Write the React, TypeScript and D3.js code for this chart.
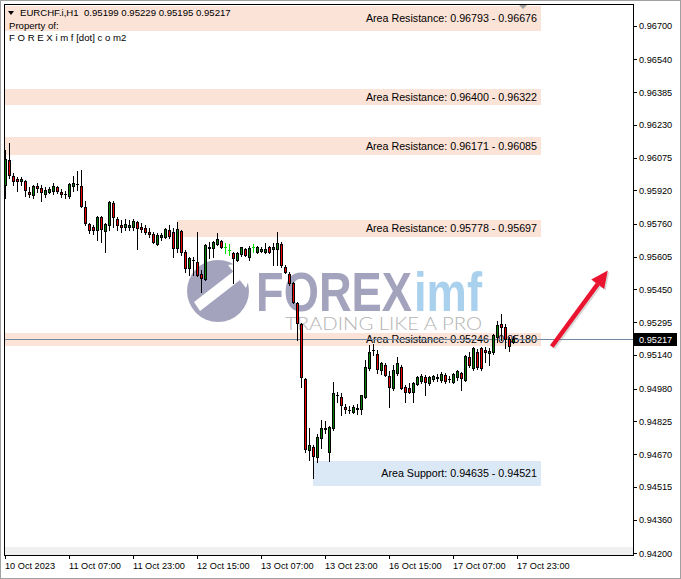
import React from 'react';
import * as d3 from 'd3';

// EURCHF.i H1, first visible bar = 10 Oct 2023 15:00
const opens = [
  0.95945, 0.96064, 0.95988, 0.95973, 0.95964, 0.95964, 0.95912, 0.95897, 0.95941, 0.95931,
  0.95902, 0.95912, 0.95916, 0.95936, 0.95912, 0.95902, 0.95893, 0.95941, 0.95950, 0.95941,
  0.95841, 0.95760, 0.95746, 0.95732, 0.95793, 0.95727, 0.95755, 0.95860, 0.95784, 0.95755,
  0.95746, 0.95746, 0.95746, 0.95770, 0.95746, 0.95741, 0.95722, 0.95713, 0.95665, 0.95699,
  0.95699, 0.95732, 0.95722, 0.95646, 0.95727, 0.95628, 0.95552, 0.95590, 0.95581, 0.95523,
  0.95500, 0.95646, 0.95646, 0.95665, 0.95679, 0.95651, 0.95637, 0.95623, 0.95590, 0.95618,
  0.95641, 0.95604, 0.95651, 0.95628, 0.95632, 0.95628, 0.95651, 0.95641, 0.95641, 0.95665,
  0.95557, 0.95523, 0.95481, 0.95386, 0.95286, 0.95025, 0.94689, 0.94703, 0.94656, 0.94746,
  0.94793, 0.94680, 0.94793, 0.94950, 0.94940, 0.94893, 0.94879, 0.94869, 0.94888, 0.94883,
  0.94940, 0.95078, 0.95163, 0.95144, 0.95068, 0.95092, 0.95040, 0.94983, 0.95054, 0.95083,
  0.94988, 0.94983, 0.94964, 0.95002, 0.95016, 0.95035, 0.95007, 0.95025, 0.95030, 0.95021,
  0.95044, 0.95025, 0.95012, 0.95035, 0.95054, 0.95021, 0.95130, 0.95078, 0.95154, 0.95172,
  0.95163, 0.95149, 0.95154, 0.95225, 0.95286, 0.95272, 0.95215, 0.95199,
];
const highs = [
  0.96111, 0.96144, 0.96002, 0.95983, 0.95983, 0.95969, 0.95936, 0.95945, 0.95955, 0.95945,
  0.95936, 0.95936, 0.95955, 0.95941, 0.95926, 0.95916, 0.95955, 0.95988, 0.96011, 0.96016,
  0.95869, 0.95765, 0.95755, 0.95798, 0.95798, 0.95765, 0.95869, 0.95869, 0.95793, 0.95779,
  0.95784, 0.95779, 0.95784, 0.95774, 0.95765, 0.95755, 0.95741, 0.95722, 0.95718, 0.95718,
  0.95741, 0.95755, 0.95741, 0.95770, 0.95732, 0.95637, 0.95604, 0.95604, 0.95722, 0.95542,
  0.95665, 0.95675, 0.95679, 0.95718, 0.95684, 0.95670, 0.95665, 0.95628, 0.95628, 0.95651,
  0.95646, 0.95656, 0.95665, 0.95656, 0.95651, 0.95670, 0.95656, 0.95670, 0.95722, 0.95675,
  0.95566, 0.95533, 0.95486, 0.95391, 0.95291, 0.95030, 0.94793, 0.94713, 0.94765, 0.94831,
  0.94826, 0.94803, 0.95012, 0.94964, 0.94959, 0.94907, 0.94898, 0.94902, 0.94907, 0.94950,
  0.95116, 0.95187, 0.95191, 0.95163, 0.95107, 0.95102, 0.95063, 0.95092, 0.95130, 0.95092,
  0.94997, 0.95007, 0.95012, 0.95040, 0.95049, 0.95044, 0.95040, 0.95044, 0.95049, 0.95059,
  0.95054, 0.95040, 0.95054, 0.95068, 0.95059, 0.95139, 0.95154, 0.95177, 0.95168, 0.95177,
  0.95177, 0.95172, 0.95240, 0.95300, 0.95334, 0.95286, 0.95225, 0.95229,
];
const lows = [
  0.95883, 0.95978, 0.95945, 0.95916, 0.95945, 0.95893, 0.95888, 0.95883, 0.95912, 0.95869,
  0.95888, 0.95907, 0.95902, 0.95907, 0.95888, 0.95883, 0.95883, 0.95916, 0.95921, 0.95841,
  0.95755, 0.95718, 0.95713, 0.95684, 0.95675, 0.95628, 0.95732, 0.95746, 0.95732, 0.95722,
  0.95732, 0.95732, 0.95732, 0.95641, 0.95722, 0.95713, 0.95699, 0.95670, 0.95660, 0.95684,
  0.95694, 0.95694, 0.95604, 0.95628, 0.95613, 0.95533, 0.95518, 0.95518, 0.95516, 0.95438,
  0.95495, 0.95599, 0.95604, 0.95660, 0.95646, 0.95623, 0.95613, 0.95481, 0.95585, 0.95608,
  0.95608, 0.95590, 0.95628, 0.95623, 0.95628, 0.95623, 0.95623, 0.95566, 0.95566, 0.95557,
  0.95528, 0.95471, 0.95386, 0.95210, 0.94988, 0.94680, 0.94642, 0.94556, 0.94633, 0.94698,
  0.94770, 0.94637, 0.94784, 0.94917, 0.94855, 0.94865, 0.94865, 0.94865, 0.94860, 0.94860,
  0.94935, 0.95068, 0.95139, 0.95054, 0.95049, 0.95040, 0.94893, 0.94973, 0.95044, 0.94978,
  0.94917, 0.94959, 0.94917, 0.94997, 0.95007, 0.94950, 0.94997, 0.95016, 0.95016, 0.95012,
  0.95007, 0.95012, 0.95007, 0.95021, 0.94973, 0.95016, 0.95083, 0.95068, 0.95073, 0.95068,
  0.95107, 0.95092, 0.95144, 0.95201, 0.95210, 0.95172, 0.95158, 0.95195,
];
const closes = [
  0.96068, 0.95992, 0.95964, 0.95964, 0.95973, 0.95921, 0.95902, 0.95941, 0.95931, 0.95912,
  0.95921, 0.95926, 0.95941, 0.95916, 0.95902, 0.95902, 0.95950, 0.95955, 0.95950, 0.95846,
  0.95765, 0.95732, 0.95732, 0.95793, 0.95736, 0.95760, 0.95864, 0.95793, 0.95755, 0.95746,
  0.95760, 0.95755, 0.95774, 0.95741, 0.95736, 0.95722, 0.95713, 0.95675, 0.95708, 0.95708,
  0.95736, 0.95703, 0.95646, 0.95736, 0.95628, 0.95552, 0.95599, 0.95590, 0.95518, 0.95505,
  0.95660, 0.95651, 0.95675, 0.95689, 0.95651, 0.95651, 0.95637, 0.95599, 0.95623, 0.95651,
  0.95613, 0.95646, 0.95651, 0.95651, 0.95641, 0.95641, 0.95628, 0.95651, 0.95670, 0.95566,
  0.95533, 0.95481, 0.95391, 0.95291, 0.95035, 0.94694, 0.94713, 0.94661, 0.94751, 0.94793,
  0.94788, 0.94798, 0.94959, 0.94950, 0.94902, 0.94883, 0.94879, 0.94893, 0.94883, 0.94950,
  0.95083, 0.95154, 0.95163, 0.95073, 0.95102, 0.95044, 0.94988, 0.95068, 0.95102, 0.94983,
  0.94964, 0.94964, 0.95007, 0.95035, 0.95040, 0.95012, 0.95035, 0.95040, 0.95035, 0.95049,
  0.95016, 0.95025, 0.95049, 0.95063, 0.95030, 0.95135, 0.95092, 0.95172, 0.95083, 0.95078,
  0.95154, 0.95158, 0.95234, 0.95281, 0.95272, 0.95215, 0.95182, 0.95217,
];
// bars drawn in lime by the terminal
const limeBars = [55, 56, 62];

const timeTickBars = [0, 16, 32, 48, 64, 80, 96, 112, 128];
const timeTickLabels = [
  '10 Oct 2023', '11 Oct 07:00', '11 Oct 23:00', '12 Oct 15:00', '13 Oct 07:00',
  '13 Oct 23:00', '16 Oct 15:00', '17 Oct 07:00', '17 Oct 23:00',
];
const priceTicks = [
  0.967, 0.9654, 0.96385, 0.9623, 0.96075, 0.9592, 0.9576, 0.95605, 0.9545,
  0.95295, 0.9514, 0.9498, 0.94825, 0.9467, 0.94515, 0.9436, 0.942,
];

const zoneKinds = ['Resistance', 'Resistance', 'Resistance', 'Resistance', 'Resistance', 'Support'];
const zoneTops = [0.96793, 0.964, 0.96171, 0.95778, 0.95246, 0.94635];
const zoneBottoms = [0.96676, 0.96322, 0.96085, 0.95697, 0.9518, 0.94521];
const zoneStartBars = [-2, -2, -2, 43, -2, 77];
const zoneEndBar = 134;

const arrowFrom = { bar: 136.7, price: 0.9518 };
const arrowTo = { bar: 150.7, price: 0.9554 };

const font = "'Liberation Sans', Arial, sans-serif";
const GREEN = '#008000';
const RED = '#ee0000';
const LIME = '#00e000';

const App: React.FC = () => {
  const left = 4, right = 633, top = 4, bottom = 555;
  const x = d3.scaleLinear().domain([0, 1]).range([5, 9]);
  const y = d3.scaleLinear().domain([0.942, 0.967]).range([553.3, 25.7]);
  const ry = (v: number) => Math.round(y(v));
  const n = closes.length;
  const last = n - 1;
  const fmt = (v: number) => v.toFixed(5);

  const candles = d3.range(n).map((i) => {
    const cx = Math.round(x(i));
    const o = opens[i], c = closes[i];
    const hi = ry(highs[i]), lo = ry(lows[i]);
    const bt = ry(Math.max(o, c)), bb = ry(Math.min(o, c));
    const lime = limeBars.includes(i);
    const edge = lime ? LIME : '#000';
    const fill = c > o ? GREEN : RED;
    return (
      <g key={i}>
        <rect x={cx} y={hi} width={1} height={lo - hi + 1} fill={edge} />
        <rect x={cx - 1} y={bt} width={3} height={bb - bt + 1} fill={edge} />
        {bb - bt > 1 && !lime && (
          <rect x={cx} y={bt + 1} width={1} height={bb - bt - 1} fill={fill} />
        )}
      </g>
    );
  });

  // arrow annotation
  const ax1 = x(arrowFrom.bar), ay1 = y(arrowFrom.price);
  const ax2 = x(arrowTo.bar), ay2 = y(arrowTo.price);
  const len = Math.hypot(ax2 - ax1, ay2 - ay1);
  const ux = (ax2 - ax1) / len, uy = (ay2 - ay1) / len;
  const hl = 17, hw = 8;
  const bx = ax2 - ux * hl, by = ay2 - uy * hl;
  const head = [
    [ax2, ay2],
    [bx - uy * hw, by + ux * hw],
    [bx + uy * hw, by - ux * hw],
  ].map((p) => p.join(',')).join(' ');

  return (
    <>
      <style>{'body{margin:0}'}</style>
      <svg width={681} height={579} style={{ display: 'block', fontFamily: font }}>
        <rect x={0} y={0} width={681} height={579} fill="#fff" />
        <rect x={0.5} y={0.5} width={680} height={578} fill="none" stroke="#a0a0a0" />

        {/* zones */}
        {zoneTops.map((t, i) => {
          const x1 = Math.max(left + 1, Math.round(x(zoneStartBars[i])));
          const x2 = Math.round(x(zoneEndBar));
          const y1 = ry(t), y2 = ry(zoneBottoms[i]);
          return (
            <g key={i}>
              <rect x={x1} y={Math.max(top + 1, y1)} width={x2 - x1} height={y2 - Math.max(top + 1, y1)}
                fill={zoneKinds[i] === 'Support' ? '#dbe8f6' : '#fce3d7'} />
              <text x={x2 - 4} y={(y1 + y2) / 2 + 3.8} fontSize={10.7} textAnchor="end" fill="#000">
                {`Area ${zoneKinds[i]}: ${fmt(t)} - ${fmt(zoneBottoms[i])}`}
              </text>
            </g>
          );
        })}

        {/* watermark */}
        <g>
          <circle cx={218} cy={291} r={31} fill="#a4a3bd" />
          <polygon points="200,311 194,302 234,271 240,280" fill="#fff" />
          <polygon points="255,261 228,265 246,288" fill="#fff" />
          <text x={256} y={311} fontSize={56} fontWeight="bold" fill="#a4a3bd"
            textLength={156} lengthAdjust="spacingAndGlyphs">FOREX</text>
          <text x={414} y={311} fontSize={56} fontWeight="bold" fill="#a9d0ec"
            textLength={68} lengthAdjust="spacingAndGlyphs">imf</text>
          <text x={285} y={330} fontSize={18} fontFamily="Lato, 'Open Sans', sans-serif" fontWeight={300}
            fill="#b4b4b4" textLength={197} lengthAdjust="spacingAndGlyphs">TRADING LIKE A PRO</text>
        </g>

        {/* current price line */}
        <line x1={left} x2={right} y1={ry(closes[last]) + 0.5} y2={ry(closes[last]) + 0.5} stroke="#7088a0" />

        {candles}

        {/* bottom strip */}
        <rect x={left + 1} y={547} width={right - left - 1} height={bottom - 547} fill="#f0f0f0" />

        {/* frame */}
        <rect x={left + 0.5} y={top + 0.5} width={right - left} height={bottom - top} fill="none" stroke="#000" />

        {/* header */}
        <polygon points="8,11 14,11 11,15" fill="#000" />
        <text x={20} y={16} fontSize={9.6} fill="#000">
          {`EURCHF.i,H1\u00a0\u00a0${fmt(opens[last])} ${fmt(highs[last])} ${fmt(lows[last])} ${fmt(closes[last])}`}
        </text>
        <text x={9} y={28.5} fontSize={9.6} fill="#000">Property of:</text>
        <text x={9} y={40.5} fontSize={9.6} fill="#000">F O R E X i m f [dot] c o m2</text>
        <polygon points="519,5 527,5 523,9" fill="#a0a0a0" />

        {/* price axis */}
        {priceTicks.map((v) => (
          <g key={v}>
            <line x1={right} x2={right + 4} y1={ry(v) + 0.5} y2={ry(v) + 0.5} stroke="#000" />
            <text x={639} y={y(v) + 3.4} fontSize={9.2} fill="#000">{fmt(v)}</text>
          </g>
        ))}
        <rect x={634} y={ry(closes[last]) - 6} width={43} height={13} fill="#000" />
        <text x={639} y={ry(closes[last]) + 4} fontSize={9.2} fill="#fff">{fmt(closes[last])}</text>

        {/* time axis */}
        {timeTickBars.map((b, i) => (
          <g key={b}>
            <line x1={Math.round(x(b)) + 0.5} x2={Math.round(x(b)) + 0.5} y1={bottom} y2={bottom + 4} stroke="#000" />
            <text x={Math.round(x(b))} y={569} fontSize={9.2} fill="#000">{timeTickLabels[i]}</text>
          </g>
        ))}

        {/* red arrow */}
        <g transform="translate(1.5,1.5)" opacity={0.25}>
          <line x1={ax1} y1={ay1} x2={bx} y2={by} stroke="#666" strokeWidth={4.5} />
          <polygon points={head} fill="#666" />
        </g>
        <line x1={ax1} y1={ay1} x2={bx} y2={by} stroke="#ea1430" strokeWidth={4.5} />
        <polygon points={head} fill="#ea1430" />
      </svg>
    </>
  );
};

export default App;
